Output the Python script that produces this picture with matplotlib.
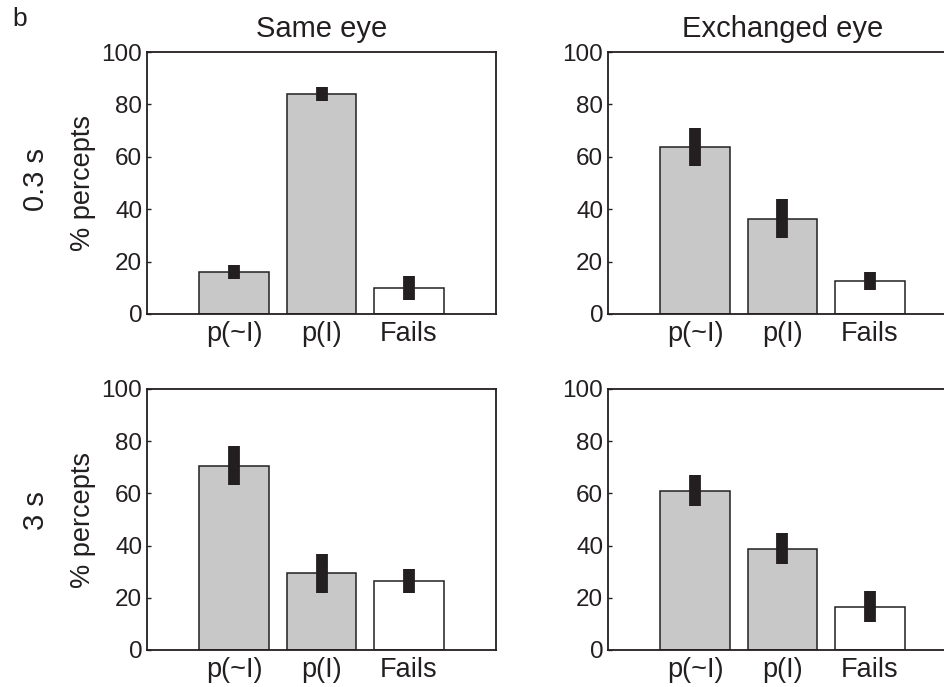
import matplotlib
matplotlib.use("Agg")
import matplotlib.pyplot as plt
import numpy as np

plt.rcParams['font.family'] = ['Liberation Sans', 'DejaVu Sans']

# data (% percepts, mean and half error bar)
cats = ["p(~I)", "p(I)", "Fails"]
same_03 = [16.0, 83.9, 9.9]
same_03_err = [2.7, 2.7, 4.5]
exch_03 = [63.7, 36.4, 12.6]
exch_03_err = [7.4, 7.4, 3.4]
same_3 = [70.6, 29.4, 26.6]
same_3_err = [7.4, 7.4, 4.6]
exch_3 = [61.0, 38.8, 16.6]
exch_3_err = [6.0, 6.0, 6.0]

col_titles = ["Same eye", "Exchanged eye"]
row_titles = ["0.3 s", "3 s"]

dark = "#231f20"
fills = ["#c8c8c8", "#c8c8c8", "white"]

W, H = 945, 687
fig = plt.figure(figsize=(W/100, H/100), dpi=100)

def pos(l, t, r, b):
    return [l/W, 1-b/H, (r-l)/W, (b-t)/H]

panels = [
    (pos(147, 52, 496, 314), same_03, same_03_err),
    (pos(608, 52, 957, 314), exch_03, exch_03_err),
    (pos(147, 389, 496, 650), same_3, same_3_err),
    (pos(608, 389, 957, 650), exch_3, exch_3_err),
]

axes = []
for p, vals, errs in panels:
    ax = fig.add_axes(p)
    x = np.arange(1, len(cats)+1)
    ax.bar(x, vals, width=0.8, color=fills, edgecolor=dark, linewidth=1.1,
           zorder=2)
    ax.errorbar(x, vals, yerr=errs, fmt="none", ecolor=dark,
                elinewidth=8.5, capsize=0, zorder=3)
    ax.set_xlim(0, 4)
    ax.set_ylim(0, 100)
    ax.set_yticks(np.arange(0, 101, 20))
    ax.set_xticks(x)
    ax.set_xticklabels(cats)
    ax.tick_params(axis="y", direction="in", length=3, width=1, color=dark,
                   labelsize=17.5, pad=3.5, labelcolor=dark)
    ax.tick_params(axis="x", length=0, labelsize=19.5, pad=5, labelcolor=dark)
    for s in ax.spines.values():
        s.set_linewidth(1.3)
        s.set_color(dark)
    axes.append(ax)

for ax, t in zip(axes[:2], col_titles):
    ax.set_title(t, fontsize=21, color=dark, pad=11)

for ax in (axes[0], axes[2]):
    ax.set_ylabel("% percepts", fontsize=19.5, color=dark, va="center")
    ax.yaxis.set_label_coords(-0.183, 0.5)

fig.text(36/W, 1-180/H, row_titles[0], rotation=90, fontsize=21, color=dark,
         ha="center", va="center")
fig.text(36/W, 1-511/H, row_titles[1], rotation=90, fontsize=21, color=dark,
         ha="center", va="center")
fig.text(20/W, 1-19/H, "b", fontsize=19, color=dark, ha="center", va="center")

fig.savefig("out.png", dpi=100)
